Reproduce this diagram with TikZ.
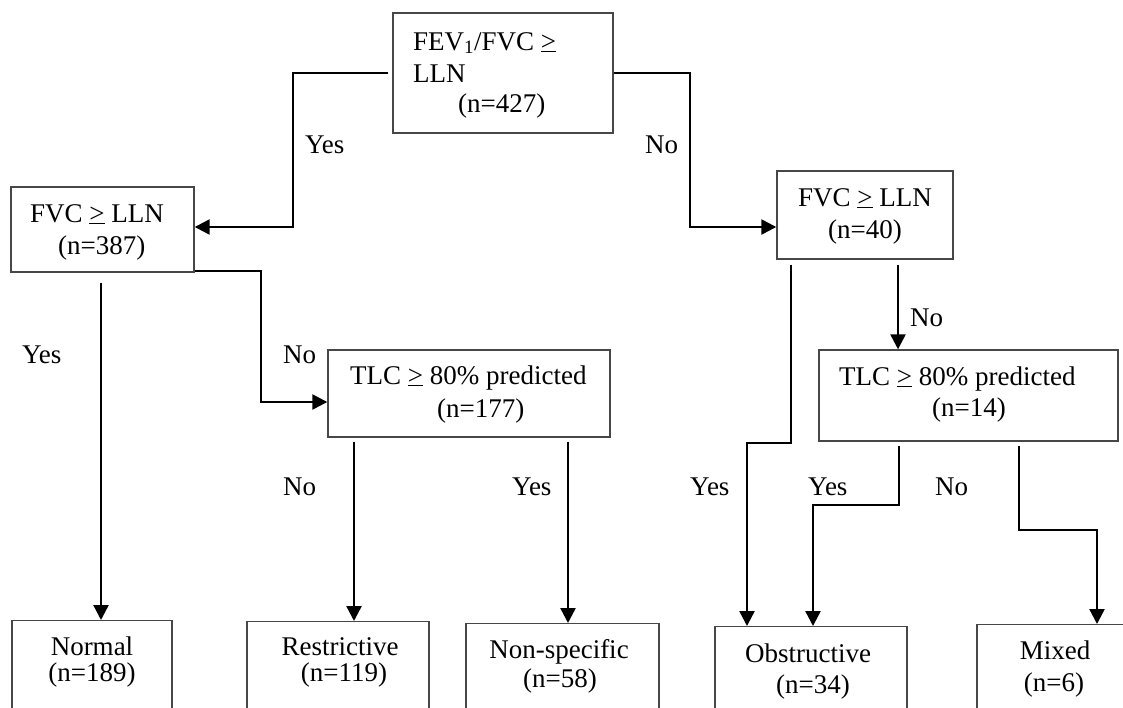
\documentclass[tikz,border=0pt]{standalone}
\usepackage{fontspec}
\setmainfont{Liberation Serif}
\usetikzlibrary{arrows.meta}
\tikzset{
  box/.style={draw=black!72, line width=1.4pt, inner sep=0pt},
  txt/.style={inner sep=0pt, font=\fontsize{27}{30}\selectfont, anchor=base},
  txtw/.style={txt, anchor=base west},
  arr/.style={line width=2.4pt, -{Triangle[length=15pt,width=15pt]}},
}
\newcommand{\gemark}{\underline{>}}
\begin{document}
\begin{tikzpicture}[x=1pt,y=-1pt]
\useasboundingbox (0,0) rectangle (1123,707);
\clip (0,0) rectangle (1123,707);
\fill[white] (0,0) rectangle (1123,707);

% boxes
\node[box, minimum width=220pt, minimum height=120pt] (top) at (503,73) {};
\node[box, minimum width=183pt, minimum height=85pt] (fvc1) at (102.5,229.5) {};
\node[box, minimum width=176pt, minimum height=88pt] (fvc2) at (865,215) {};
\node[box, minimum width=282pt, minimum height=87pt] (tlc1) at (469,393.5) {};
\node[box, minimum width=299pt, minimum height=91pt] (tlc2) at (968.5,395.5) {};
\node[box, anchor=north, minimum width=160pt, minimum height=110pt] (normal) at (92,620) {};
\node[box, anchor=north, minimum width=182pt, minimum height=110pt] (restr) at (338,621) {};
\node[box, anchor=north, minimum width=193pt, minimum height=110pt] (nonspec) at (562.5,623) {};
\node[box, anchor=north, minimum width=192pt, minimum height=110pt] (obstr) at (811,626) {};
\node[box, anchor=north, minimum width=160pt, minimum height=110pt] (mixed) at (1057,624) {};

% box texts
\node[txtw] (tTopA) at (413,50) {FEV\textsubscript{1}/FVC \gemark};
\node[txtw] (tTopB) at (413,82) {LLN};
\node[txtw] (tTopC) at (458,112) {(n=427)};
\node[txtw] (tF1a) at (30,222) {FVC \gemark{} LLN};
\node[txtw] (tF1b) at (58,254) {(n=387)};
\node[txtw] (tF2a) at (798,206) {FVC \gemark{} LLN};
\node[txtw] (tF2b) at (828,238) {(n=40)};
\node[txtw] (tT1a) at (350,384) {TLC \gemark{} 80\% predicted};
\node[txtw] (tT1b) at (437,417) {(n=177)};
\node[txtw] (tT2a) at (839,385) {TLC \gemark{} 80\% predicted};
\node[txtw] (tT2b) at (932,416) {(n=14)};
\node[txt] (tNa) at (92,655) {Normal};
\node[txt] (tNb) at (92,681) {(n=189)};
\node[txt] (tRa) at (340,655) {Restrictive};
\node[txt] (tRb) at (344,681) {(n=119)};
\node[txt] (tSa) at (559,658) {Non-specific};
\node[txt] (tSb) at (560,687) {(n=58)};
\node[txt] (tOa) at (808,662) {Obstructive};
\node[txt] (tOb) at (813,693) {(n=34)};
\node[txt] (tMa) at (1055,659) {Mixed};
\node[txt] (tMb) at (1054,691) {(n=6)};

% edge labels
\node[txtw] (l1) at (305,153) {Yes};
\node[txtw] (l2) at (645,153) {No};
\node[txtw] (l3) at (22,363) {Yes};
\node[txtw] (l4) at (283,363) {No};
\node[txtw] (l5) at (910,326) {No};
\node[txtw] (l6) at (283,495) {No};
\node[txtw] (l7) at (512,495) {Yes};
\node[txtw] (l8) at (690,495) {Yes};
\node[txtw] (l9) at (808,495) {Yes};
\node[txtw] (l10) at (935,495) {No};

% bend points
\coordinate (b1) at (293,227);
\coordinate (b2) at (690,227);
\coordinate (b3) at (261,402);
\coordinate (xn) at (101,0);
\coordinate (xr) at (354,0);
\coordinate (xs) at (568,0);
\coordinate (xo) at (791,0);
\coordinate (xt) at (898,0);
\coordinate (c4) at (747,443);
\coordinate (xy) at (899,0);
\coordinate (c5) at (813,505);
\coordinate (xm) at (1019,0);
\coordinate (c6) at (1097,530);

% connectors
\draw[arr, shorten <=4pt] (top.west) -| (b1) -- (b1 -| fvc1.east);
\draw[arr] (top.east) -| (b2) -- (b2 -| fvc2.west);
\draw[arr] ([yshift=2pt]fvc1.south east) -| (b3) -- (b3 -| tlc1.west);
\draw[arr, shorten <=10pt] (fvc1.south -| xn) -- (normal.north -| xn);
\draw[arr, shorten <=4pt] (tlc1.south -| xr) -- (restr.north -| xr);
\draw[arr, shorten <=4pt] (tlc1.south -| xs) -- (nonspec.north -| xs);
\draw[arr, shorten <=5pt] (fvc2.south -| xo) |- (c4) -- (c4 |- obstr.north);
\draw[arr, shorten <=5pt] (fvc2.south -| xt) -- (tlc2.north -| xt);
\draw[arr, shorten <=4pt] (tlc2.south -| xy) |- (c5) -- (c5 |- obstr.north);
\draw[arr, shorten <=4pt] (tlc2.south -| xm) |- (c6) -- (c6 |- mixed.north);
\end{tikzpicture}
\end{document}
